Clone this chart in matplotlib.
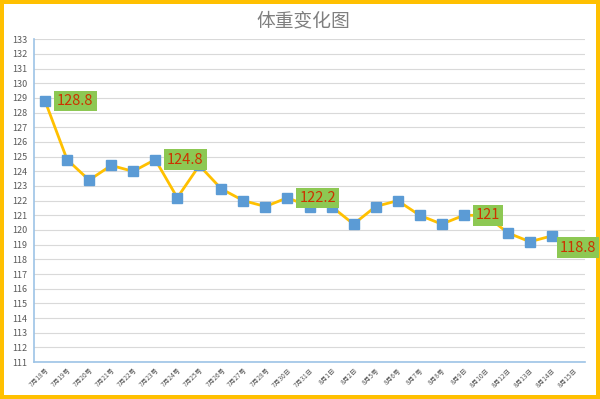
import matplotlib
matplotlib.use('Agg')
import matplotlib.pyplot as plt
import numpy as np

plt.rcParams['font.family'] = ['Noto Sans CJK SC', 'DejaVu Sans']

# dates as written on the chart (mixed 号/日 kept as in the original)
dates = ['7月18号', '7月19号', '7月20号', '7月21号', '7月22号', '7月23号',
         '7月24号', '7月25号', '7月26号', '7月27号', '7月28号', '7月30日',
         '7月31日', '8月1日', '8月2日', '8月5号', '8月6号', '8月7号',
         '8月8号', '8月9日', '8月10日', '8月12日', '8月13日', '8月14日',
         '8月15日']
weights = [128.8, 124.8, 123.4, 124.4, 124.0, 124.8, 122.2, 124.4, 122.8,
           122.0, 121.6, 122.2, 121.6, 121.6, 120.4, 121.6, 122.0, 121.0,
           120.4, 121.0, 121.0, 119.8, 119.2, 119.6, 118.8]
# indices of points that carry a data label
labelled = [0, 5, 11, 19, 24]

fig = plt.figure(figsize=(6, 3.99), dpi=100)
fig.patch.set_facecolor('white')
fig.patch.set_edgecolor('#FFC000')
fig.patch.set_linewidth(4.5)

ax = fig.add_axes([0.0567, 0.0927, 0.9183, 0.8088])
x = np.arange(len(dates))
ax.plot(x, weights, color='#FFC000', lw=2, marker='s', markersize=6.5,
        markerfacecolor='#5B9BD5', markeredgecolor='#5B9BD5', zorder=3)

for i in labelled:
    if i == len(dates) - 1:
        off, ha = (4, 0), 'center'
    else:
        off, ha = (12, 0), 'left'
    val = weights[i]
    txt = ('%.1f' % val).rstrip('0').rstrip('.')
    ax.annotate(txt, (x[i], val), xytext=off, textcoords='offset pixels',
                ha=ha, va='center', fontsize=10.5, color='#CC3300',
                bbox=dict(boxstyle='square,pad=0.22', fc='#8DC853', ec='none'),
                zorder=5)

ax.set_xlim(-0.5, len(dates) - 0.5)
ax.set_ylim(111, 133)
ax.set_yticks(range(111, 134))
ax.set_xticks(x)
ax.set_xticklabels(dates, rotation=45, ha='right', rotation_mode='anchor',
                   fontsize=4.8, color='#595959')
ax.tick_params(axis='y', labelsize=6.5, labelcolor='#595959', length=0, pad=5)
ax.tick_params(axis='x', length=0, pad=3)
ax.grid(axis='y', color='#D9D9D9', lw=0.8)
ax.set_axisbelow(True)
for s in ['top', 'right']:
    ax.spines[s].set_visible(False)
for s in ['left', 'bottom']:
    ax.spines[s].set_color('#9DC3E6')
    ax.spines[s].set_linewidth(1.2)

fig.text(0.505, 0.947, '体重变化图', ha='center', va='center',
         fontsize=13.5, color='#7F7F7F')

fig.savefig('out.png', dpi=100, facecolor=fig.get_facecolor(),
            edgecolor=fig.get_edgecolor())
